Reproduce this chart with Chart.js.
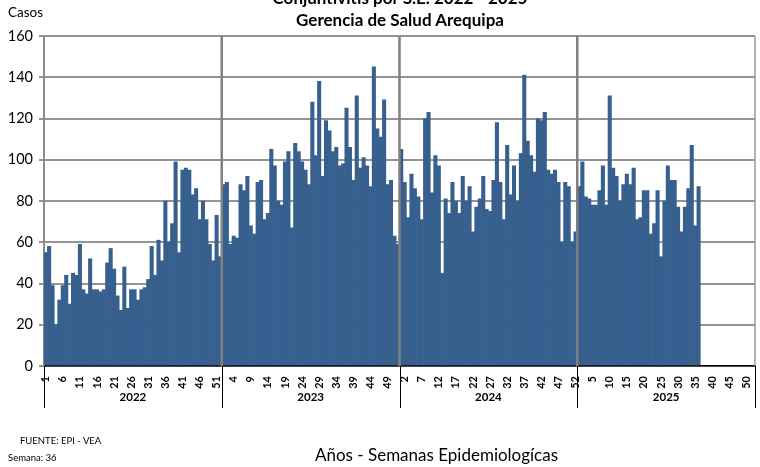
<!DOCTYPE html>
<html lang="es">
<head>
  <meta charset="UTF-8">
  <title>Conjuntivitis por S.E. 2022 - 2025</title>
  <script src="https://cdn.jsdelivr.net/npm/chart.js"></script>
  <style>
    body { margin: 0; background: #fff; font-family: Lato, sans-serif; }
    #wrap { position: relative; width: 760px; height: 467px; overflow: hidden; }
    .txt { position: absolute; color: #000; white-space: nowrap; }
    #titulo { left: 0; width: 800px; top: -13px; text-align: center; font-weight: bold; font-size: 17px; line-height: 22px; }
    #casos { left: 8px; top: 4px; font-size: 13.5px; }
    #ejeX { left: 315px; top: 444px; font-size: 17px; }
    #fuente { left: 20px; top: 435px; font-size: 9.5px; }
    #semana { left: 8px; top: 452px; font-size: 9.5px; }
  </style>
</head>
<body>
  <div id="wrap">
    <canvas id="chart" width="760" height="467"></canvas>
    <div class="txt" id="titulo">Conjuntivitis por S.E. 2022 - 2025<br>Gerencia de Salud Arequipa</div>
    <div class="txt" id="casos">Casos</div>
    <div class="txt" id="ejeX">Años - Semanas Epidemiologícas</div>
    <div class="txt" id="fuente">FUENTE: EPI - VEA</div>
    <div class="txt" id="semana">Semana: 36</div>
  </div>

  <script>
    // years and weeks on the category axis
    const anios = ['2022', '2023', '2024', '2025'];
    const semanasPorAnio = 52;

    // cases per epidemiological week
    const casos2022 = [55, 58, 39, 20, 32, 39, 44, 30, 45, 44, 59, 37, 35, 52, 37, 37, 36, 37, 50, 57, 47, 34, 27, 48, 28, 37,
                       37, 32, 37, 38, 42, 58, 44, 61, 51, 80, 60, 69, 99, 55, 95, 96, 95, 83, 86, 71, 80, 71, 59, 51, 73, 53];
    const casos2023 = [88, 89, 59, 63, 62, 88, 85, 92, 68, 64, 89, 90, 71, 74, 105, 97, 80, 78, 99, 104, 67, 108, 104, 99, 95, 88,
                       128, 102, 138, 92, 119, 114, 104, 106, 97, 98, 125, 106, 90, 131, 96, 101, 97, 87, 145, 115, 111, 129, 88, 90, 63, 59];
    const casos2024 = [105, 89, 72, 93, 86, 82, 71, 120, 123, 84, 102, 97, 45, 81, 74, 89, 80, 74, 92, 80, 87, 65, 77, 81, 92, 76,
                       75, 90, 118, 89, 71, 107, 83, 97, 80, 103, 141, 109, 102, 94, 120, 119, 123, 95, 93, 95, 89, 60, 89, 87, 60, 65];
    const casos2025 = [87, 99, 82, 81, 78, 78, 85, 97, 78, 131, 96, 92, 80, 88, 93, 88, 96, 71, 72, 85, 85, 64, 69, 85, 53, 80,
                       97, 90, 90, 77, 65, 77, 86, 107, 68, 87];

    const etiquetas = [];
    anios.forEach(() => {
      for (let s = 1; s <= semanasPorAnio; s++) etiquetas.push(String(s));
    });
    const datos = [...casos2022, ...casos2023, ...casos2024, ...casos2025];

    // year separators, plot border and year labels under the week labels
    const aniosPlugin = {
      id: 'anios',
      limites(chart) {
        const x = chart.scales.x;
        const area = chart.chartArea;
        const b = [area.left];
        for (let k = 1; k < anios.length; k++) {
          const i = k * semanasPorAnio;
          b.push((x.getPixelForValue(i - 1) + x.getPixelForValue(i)) / 2);
        }
        b.push(area.right);
        return b;
      },
      afterDatasetsDraw(chart) {
        const ctx = chart.ctx;
        const area = chart.chartArea;
        const b = this.limites(chart);
        ctx.save();
        ctx.strokeStyle = '#808080';
        ctx.lineWidth = 2.5;
        for (let k = 1; k < b.length - 1; k++) {
          ctx.beginPath();
          ctx.moveTo(b[k], area.top);
          ctx.lineTo(b[k], area.bottom);
          ctx.stroke();
        }
        ctx.strokeStyle = '#9a9a9a';
        ctx.lineWidth = 1.5;
        ctx.beginPath();
        ctx.moveTo(area.right, area.top);
        ctx.lineTo(area.right, area.bottom);
        ctx.stroke();
        ctx.restore();
      },
      afterDraw(chart) {
        const ctx = chart.ctx;
        const area = chart.chartArea;
        const b = this.limites(chart);
        ctx.save();
        ctx.strokeStyle = '#000';
        ctx.lineWidth = 1;
        b.forEach(px => {
          const xx = Math.round(px) + 0.5;
          ctx.beginPath();
          ctx.moveTo(xx, area.bottom);
          ctx.lineTo(xx, area.bottom + 42);
          ctx.stroke();
        });
        ctx.fillStyle = '#000';
        ctx.font = 'bold 11.5px Lato';
        ctx.textAlign = 'center';
        ctx.textBaseline = 'middle';
        anios.forEach((a, k) => {
          ctx.fillText(a, (b[k] + b[k + 1]) / 2, area.bottom + 31);
        });
        ctx.restore();
      }
    };

    new Chart(document.getElementById('chart'), {
      type: 'bar',
      data: {
        labels: etiquetas,
        datasets: [{
          label: 'Casos',
          data: datos,
          backgroundColor: '#37608f',
          borderWidth: 0,
          barPercentage: 1,
          categoryPercentage: 1
        }]
      },
      options: {
        responsive: false,
        animation: false,
        layout: { padding: { top: 36, left: 0, right: 5, bottom: 59 } },
        plugins: {
          legend: { display: false },
          tooltip: { enabled: false }
        },
        scales: {
          x: {
            afterFit: scale => {
              scale.height = 42;
              scale.paddingLeft = 0;
              scale.paddingRight = 0;
            },
            grid: { display: false },
            border: { display: true, color: '#000', width: 1.5 },
            ticks: {
              autoSkip: false,
              maxRotation: 90,
              minRotation: 90,
              padding: 2,
              color: '#000',
              font: { family: 'Lato', size: 11, weight: 'bold' },
              callback: (v, i) => (i % 5 === 0 ? etiquetas[i] : '')
            }
          },
          y: {
            min: 0,
            max: 160,
            afterFit: scale => { scale.width = 44; },
            grid: { color: '#939393', lineWidth: 2, tickLength: 5 },
            border: { display: true, color: '#8c8c8c', width: 2 },
            ticks: {
              stepSize: 20,
              padding: 6,
              color: '#000',
              font: { family: 'Lato', size: 14.5 }
            }
          }
        }
      },
      plugins: [aniosPlugin]
    });
  </script>
</body>
</html>
